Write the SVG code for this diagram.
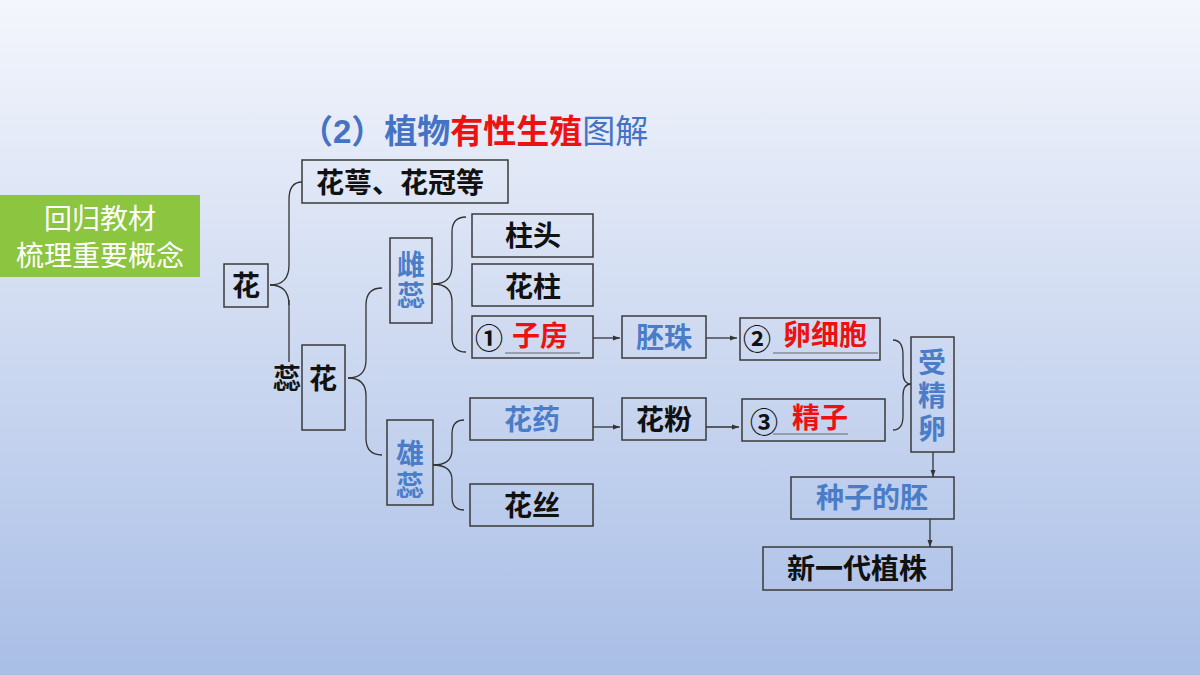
<svg xmlns="http://www.w3.org/2000/svg" width="1200" height="675" viewBox="0 0 1200 675">
<defs>
<linearGradient id="bg" x1="0" y1="0" x2="0" y2="1"><stop offset="0" stop-color="#f4f6fc"/><stop offset="1" stop-color="#a9bee6"/></linearGradient>
<marker id="ar" markerWidth="8" markerHeight="8" refX="7" refY="4" orient="auto" markerUnits="userSpaceOnUse"><path d="M0,1.5 L7,4 L0,6.5 Z" fill="#333"/></marker>
<style>
.b{fill:none;stroke:#3a3a3a;stroke-width:1.5}
.t{font-family:"Liberation Sans","Noto Sans CJK SC",sans-serif;font-weight:bold;font-size:28px;text-anchor:middle}
.k{fill:#111}.bl{fill:#4a7cc8}.r{fill:#ee1111}
.c path,.c line{fill:none;stroke:#333;stroke-width:1.3}
.u{stroke:#666;stroke-width:1.2}
</style>
</defs>
<rect width="1200" height="675" fill="url(#bg)"/>
<g id="tag"><rect x="0" y="195" width="200" height="82" fill="#8cc540"/>
<text x="100" y="229" font-family="Liberation Sans,'Noto Sans CJK SC',sans-serif" font-size="28" fill="#fff" text-anchor="middle">回归教材</text>
<text x="100" y="266" font-family="Liberation Sans,'Noto Sans CJK SC',sans-serif" font-size="28" fill="#fff" text-anchor="middle">梳理重要概念</text></g>
<text x="300" y="143" font-family="Liberation Sans,'Noto Sans CJK SC',sans-serif" font-size="33" font-weight="bold" fill="#4472c4">（2）植物<tspan fill="#ee1111">有性生殖</tspan><tspan font-weight="normal">图解</tspan></text>
<g class="c">
<path d="M270,285 Q289,285 289,265 L289,200 Q289,182 302,182"/>
<line x1="289" y1="300" x2="289" y2="362"/>
<path d="M270,285 Q289,285 289,305"/>
<path d="M348,378 Q366,378 366,360 L366,305 Q366,288 382,288"/>
<path d="M348,378 Q366,378 366,396 L366,438 Q366,455 382,455"/>
<path d="M433,284 Q452,284 452,266 L452,232 Q452,217 466,217"/>
<path d="M433,284 Q452,284 452,302 L452,338 Q452,352 466,352"/>
<path d="M433,465 Q452,465 452,450 L452,434 Q452,420 464,420"/>
<path d="M433,465 Q452,465 452,480 L452,497 Q452,510 464,510"/>
<path d="M893,340 Q903,340 903,355 L903,372 Q903,384 911,384 Q903,384 903,396 L903,416 Q903,430 893,430"/>
<line x1="593" y1="338" x2="620" y2="338" marker-end="url(#ar)"/>
<line x1="593" y1="427" x2="620" y2="427" marker-end="url(#ar)"/>
<line x1="706" y1="338" x2="737" y2="338" marker-end="url(#ar)"/>
<line x1="706" y1="427" x2="739" y2="427" marker-end="url(#ar)"/>
<line x1="933" y1="452" x2="933" y2="477" marker-end="url(#ar)"/>
<line x1="930" y1="519" x2="930" y2="547" marker-end="url(#ar)"/>
</g>
<g id="hua"><rect class="b" x="224" y="264" width="44" height="43"/><text class="t k" x="246" y="296">花</text></g>
<g id="huae"><rect class="b" x="302" y="160" width="206" height="43"/><text class="t k" x="400" y="193">花萼、花冠等</text></g>
<g id="ruihua"><text class="t k" x="287" y="389">蕊</text><rect class="b" x="302" y="345" width="43" height="85"/><text class="t k" x="323" y="389">花</text></g>
<g id="cirui"><rect class="b" x="390" y="238" width="42" height="85"/><text class="t bl" x="411" y="275">雌</text><text class="t bl" x="411" y="306">蕊</text></g>
<g id="xiongrui"><rect class="b" x="387" y="420" width="46" height="85"/><text class="t bl" x="410" y="464">雄</text><text class="t bl" x="410" y="496">蕊</text></g>
<g id="zhutou"><rect class="b" x="472" y="214" width="121" height="43"/><text class="t k" x="533" y="246">柱头</text></g>
<g id="huazhu"><rect class="b" x="472" y="264" width="121" height="42"/><text class="t k" x="533" y="297">花柱</text></g>
<g id="zifang"><rect class="b" x="472" y="316" width="121" height="42"/><text class="t k" x="489" y="349" font-weight="normal">①</text><line class="u" x1="505" y1="353" x2="580" y2="353"/><text class="t r" x="540" y="346">子房</text></g>
<g id="huayao"><rect class="b" x="470" y="398" width="123" height="42"/><text class="t bl" x="532" y="430">花药</text></g>
<g id="huasi"><rect class="b" x="470" y="484" width="123" height="42"/><text class="t k" x="532" y="516">花丝</text></g>
<g id="peizhu"><rect class="b" x="622" y="316" width="84" height="42"/><text class="t bl" x="664" y="348">胚珠</text></g>
<g id="huafen"><rect class="b" x="622" y="398" width="84" height="42"/><text class="t k" x="664" y="430">花粉</text></g>
<g id="luan"><rect class="b" x="740" y="318" width="140" height="42"/><text class="t k" x="757" y="350" font-weight="normal">②</text><line class="u" x1="773" y1="353" x2="878" y2="353"/><text class="t r" x="825" y="345">卵细胞</text></g>
<g id="jingzi"><rect class="b" x="742" y="399" width="143" height="42"/><text class="t k" x="764" y="433" font-weight="normal" font-size="22">③</text><line class="u" x1="773" y1="434" x2="848" y2="434"/><text class="t r" x="820" y="428">精子</text></g>
<g id="shoujing"><rect class="b" x="911" y="337" width="43" height="115"/><text class="t bl" x="932" y="373">受</text><text class="t bl" x="932" y="406">精</text><text class="t bl" x="932" y="439">卵</text></g>
<g id="pei"><rect class="b" x="791" y="477" width="163" height="42"/><text class="t bl" x="872" y="508">种子的胚</text></g>
<g id="xin"><rect class="b" x="763" y="547" width="189" height="43"/><text class="t k" x="857" y="579">新一代植株</text></g>
</svg>
